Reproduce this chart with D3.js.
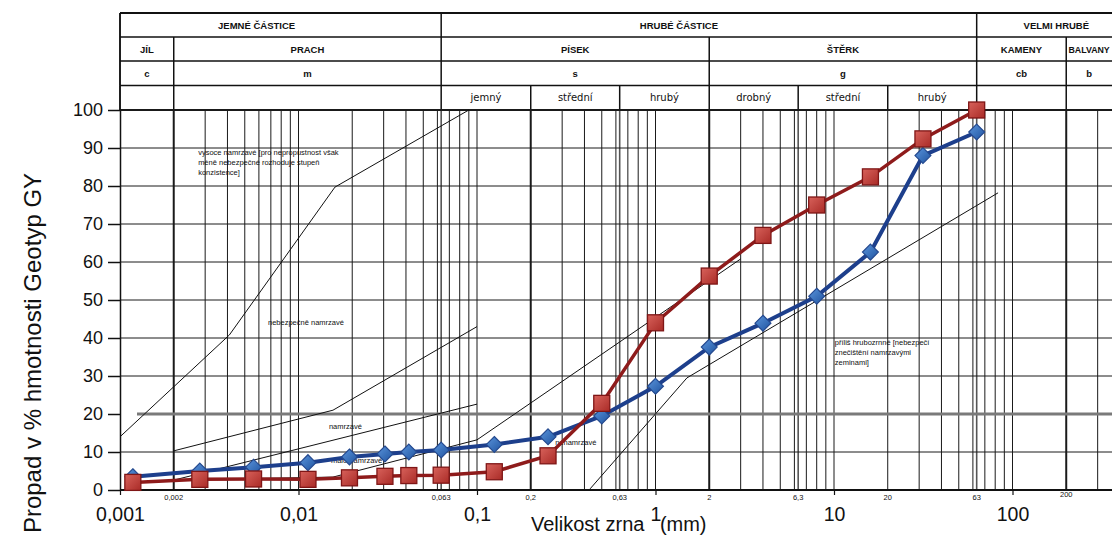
<!DOCTYPE html>
<html>
<head>
<meta charset="utf-8">
<script src="https://cdn.jsdelivr.net/npm/d3@7"></script>
<style>
  body { margin: 0; background: #fff; }
  svg { display: block; }
</style>
</head>
<body>
<script>
// sieve sizes (mm) shared by both samples
const sizes = [0.00118, 0.0028, 0.0056, 0.0113, 0.0193, 0.0305, 0.0415, 0.063, 0.125, 0.25, 0.5, 1, 2, 4, 8, 16, 31.5, 63];
const blueValues = [3.5, 5, 6, 7.2, 8.7, 9.5, 10, 10.5, 12, 14, 19.5, 27.3, 37.6, 43.9, 51, 62.6, 88, 94.2];
const redValues = [2, 2.8, 2.9, 2.8, 3.2, 3.6, 3.8, 3.9, 4.8, 9, 22.8, 44, 56.3, 67, 75, 82.4, 92.4, 100];

const yTicks = [0, 10, 20, 30, 40, 50, 60, 70, 80, 90, 100];
const xMajor = [0.001, 0.01, 0.1, 1, 10, 100];
const xBounds = [0.002, 0.063, 0.2, 0.63, 2, 6.3, 20, 63, 200];

// header table rows: [label, from, to]
const groupRow = [["JEMNÉ ČÁSTICE", 0.001, 0.063], ["HRUBÉ ČÁSTICE", 0.063, 63], ["VELMI HRUBÉ", 63, 400]];
const classRow = [["JÍL", 0.001, 0.002], ["PRACH", 0.002, 0.063], ["PÍSEK", 0.063, 2], ["ŠTĚRK", 2, 63], ["KAMENY", 63, 200], ["BALVANY", 200, 400]];
const symbolRow = [["c", 0.001, 0.002], ["m", 0.002, 0.063], ["s", 0.063, 2], ["g", 2, 63], ["cb", 63, 200], ["b", 200, 400]];
const subRow = [["", 0.001, 0.002], ["", 0.002, 0.063], ["jemný", 0.063, 0.2], ["střední", 0.2, 0.63], ["hrubý", 0.63, 2],
                ["drobný", 2, 6.3], ["střední", 6.3, 20], ["hrubý", 20, 63], ["", 63, 200], ["", 200, 400]];

// frost susceptibility boundaries [size, %]
const zoneLines = [
  [[0.001, 14], [0.0041, 40.8], [0.016, 79.7], [0.09, 100]],
  [[0.002, 10.3], [0.0156, 21], [0.1, 43]],
  [[0.002, 2.6], [0.1, 22.6]],
  [[0.002, 2.6], [0.0156, 3.4], [0.1, 13.2], [3.0, 60.8]],
  [[0.43, 0.3], [1.5, 29.5], [83, 78.2]]
];
const zoneLabels = [
  [0.00274, 88.2, ["vysoce namrzavé [pro nepropustnost však", "méně nebezpečné rozhoduje stupeň", "konzistence]"]],
  [0.00675, 43.4, ["nebezpečně namrzavé"]],
  [0.0148, 16, ["namrzavé"]],
  [0.0152, 7.1, ["málo namrzavé"]],
  [0.274, 11.8, ["nenamrzavé"]],
  [10.1, 38.2, ["příliš hrubozrnné [nebezpečí", "znečištění namrzavými", "zeminami]"]]
];

const W = 1112, H = 538, right = 1120;
const x = d3.scaleLog().domain([0.001, 100]).range([120, 1012.5]);
const y = d3.scaleLinear().domain([0, 100]).range([490, 110]);
const comma = v => String(v).replace(".", ",");

const svg = d3.select("body").append("svg")
    .attr("width", W).attr("height", H)
    .style("font-family", "'Liberation Sans', Arial, sans-serif");

const defs = svg.append("defs");
function grad(id, c1, c2) {
  const g = defs.append("linearGradient").attr("id", id)
      .attr("x1", 0).attr("y1", 0).attr("x2", 1).attr("y2", 1);
  g.append("stop").attr("offset", "0%").attr("stop-color", c1);
  g.append("stop").attr("offset", "100%").attr("stop-color", c2);
}
grad("redFill", "#d8625b", "#a92b27");
grad("blueFill", "#5b95dc", "#1f539f");

// ---- header table
const rowsY = [13, 37, 61, 85.5, 110];
const groupShift = [-24, -30, 12];
const cellMid = d => (x(d[1]) + Math.min(x(d[2]), W)) / 2;
[groupRow, classRow, symbolRow, subRow].forEach((row, i) => {
  const g = svg.append("g");
  g.selectAll("line").data(row).enter().append("line")
      .attr("x1", d => x(d[1])).attr("x2", d => x(d[1]))
      .attr("y1", rowsY[i]).attr("y2", rowsY[i + 1])
      .attr("stroke", "#111").attr("stroke-width", 1.5);
  g.selectAll("text").data(row).enter().append("text")
      .attr("x", (d, j) => cellMid(d) + (i === 0 ? groupShift[j] : 0))
      .attr("y", (rowsY[i] + rowsY[i + 1]) / 2 + 3.5)
      .attr("text-anchor", "middle")
      .style("font-family", i === 3 ? "'DejaVu Sans', sans-serif" : null)
      .style("font-size", i === 3 ? "10px" : (d => d[0] === "BALVANY" ? "8.8px" : "9.5px"))
      .style("font-weight", i === 3 ? "normal" : "bold")
      .attr("fill", "#111")
      .text(d => d[0]);
});
svg.selectAll("line.hrow").data(rowsY.slice(0, 4)).enter().append("line")
    .attr("x1", 120).attr("x2", right)
    .attr("y1", d => d).attr("y2", d => d)
    .attr("stroke", "#111").attr("stroke-width", (d, i) => i === 0 ? 2 : 1.5);

// ---- grid
const gridX = [];
for (let e = -3; e <= 2; e++) {
  for (let m = 1; m <= 9; m++) {
    const v = +(m * Math.pow(10, e)).toPrecision(3);
    if (v <= 300 && v > 0.001) gridX.push(v);
  }
}
[0.063, 0.63, 6.3, 63].forEach(v => gridX.push(v));

svg.append("g").selectAll("line").data(gridX).enter().append("line")
    .attr("x1", d => x(d)).attr("x2", d => x(d))
    .attr("y1", y(100)).attr("y2", y(0))
    .attr("stroke", d => [0.063, 0.63, 6.3, 63].includes(d) ? "#555" : "#1a1a1a")
    .attr("stroke-width", d => [0.002, 0.2, 2, 200].includes(d) ? 2 :
                              ([0.063, 0.63, 6.3, 63].includes(d) ? 1.6 : 1));

svg.append("g").selectAll("line").data(yTicks.filter(v => v > 0 && v !== 20)).enter().append("line")
    .attr("x1", 120).attr("x2", right)
    .attr("y1", d => y(d)).attr("y2", d => y(d))
    .attr("stroke", "#1a1a1a").attr("stroke-width", d => d === 100 ? 1.8 : 1);

svg.append("line")
    .attr("x1", 137).attr("x2", right).attr("y1", y(20)).attr("y2", y(20))
    .attr("stroke", "#7a7a7a").attr("stroke-width", 3);

// ---- frost susceptibility boundaries
const zl = d3.line().x(d => x(d[0])).y(d => y(d[1]));
svg.append("g").selectAll("path").data(zoneLines).enter().append("path")
    .attr("d", zl).attr("fill", "none").attr("stroke", "#111").attr("stroke-width", 1);

const lab = svg.append("g").selectAll("text").data(zoneLabels).enter().append("text")
    .attr("x", d => x(d[0])).attr("y", d => y(d[1]))
    .style("font-size", "7.5px").attr("fill", "#111");
lab.selectAll("tspan").data(d => d[2].map(t => [d[0], t])).enter().append("tspan")
    .attr("x", d => x(d[0])).attr("dy", (d, i) => i === 0 ? 0 : 10)
    .text(d => d[1]);

// ---- axes
svg.append("g")
    .attr("transform", "translate(120,0)")
    .call(d3.axisLeft(y).tickValues(yTicks).tickSize(12).tickSizeOuter(0).tickPadding(5))
    .call(g => g.selectAll("text").style("font-size", "18px").attr("fill", "#111"))
    .call(g => g.selectAll("line, path").attr("stroke", "#111").attr("stroke-width", 1.5));

svg.append("line").attr("x1", 120).attr("x2", 120).attr("y1", 13).attr("y2", 110)
    .attr("stroke", "#111").attr("stroke-width", 1.5);

svg.append("g")
    .attr("transform", `translate(0,${y(0)})`)
    .call(d3.axisBottom(x).tickValues(xMajor).tickFormat(comma).tickSize(5).tickPadding(12))
    .call(g => g.select(".domain").remove())
    .call(g => g.selectAll("text").style("font-size", "19.5px").attr("fill", "#111"))
    .call(g => g.selectAll("line").attr("stroke", "#111").attr("stroke-width", 1.2));

svg.append("line").attr("x1", 120).attr("x2", right).attr("y1", y(0)).attr("y2", y(0))
    .attr("stroke", "#111").attr("stroke-width", 2);

svg.append("g").selectAll("text").data(xBounds).enter().append("text")
    .attr("x", d => x(d)).attr("y", d => d === 200 ? 497 : 500)
    .attr("text-anchor", "middle")
    .style("font-size", "7.5px").attr("fill", "#111")
    .text(comma);

const xt = svg.append("text")
    .attr("x", 531).attr("y", 531)
    .style("font-size", "20px").attr("fill", "#111");
xt.append("tspan").text("Velikost zrna");
xt.append("tspan").attr("dx", 15.5).text("(mm)");

svg.append("text")
    .attr("transform", "translate(41,353) rotate(-90)")
    .attr("text-anchor", "middle")
    .style("font-size", "24px").attr("fill", "#111")
    .text("Propad v % hmotnosti Geotyp GY");

// ---- sample curves
const blueData = sizes.map((s, i) => [s, blueValues[i]]);
const redData = sizes.map((s, i) => [s, redValues[i]]);
const line = d3.line().x(d => x(d[0])).y(d => y(d[1]));

svg.append("path").datum(blueData).attr("d", line)
    .attr("fill", "none").attr("stroke", "#1d3f8c").attr("stroke-width", 4);
svg.append("g").selectAll("path").data(blueData).enter().append("path")
    .attr("d", d3.symbol(d3.symbolDiamond2, 160))
    .attr("transform", d => `translate(${x(d[0])},${y(d[1])})`)
    .attr("fill", "url(#blueFill)").attr("stroke", "#24498f").attr("stroke-width", 1.2);

svg.append("path").datum(redData).attr("d", line)
    .attr("fill", "none").attr("stroke", "#8e1b1b").attr("stroke-width", 3.5);
svg.append("g").selectAll("rect").data(redData).enter().append("rect")
    .attr("x", d => x(d[0]) - 8).attr("y", d => y(d[1]) - 8)
    .attr("width", 16).attr("height", 16)
    .attr("fill", "url(#redFill)").attr("stroke", "#7f1616").attr("stroke-width", 1.3);
</script>
</body>
</html>
